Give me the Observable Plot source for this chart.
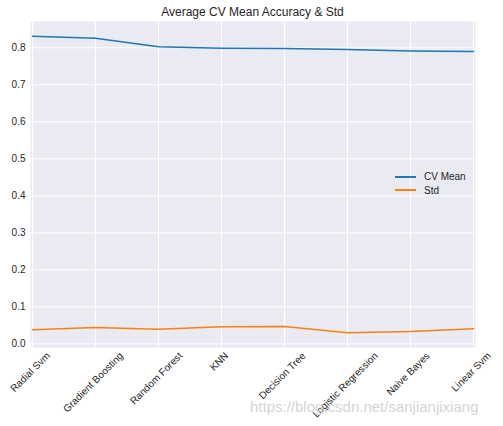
<!DOCTYPE html>
<html>
<head>
<meta charset="utf-8">
<script src="https://cdn.jsdelivr.net/npm/d3@7"></script>
<script src="https://cdn.jsdelivr.net/npm/@observablehq/plot@0.6"></script>
<style>
  body { margin: 0; background: #fff; font-family: "Liberation Sans", Arial, sans-serif; }
  #wrap { position: relative; width: 503px; height: 426px; }
  #title { position: absolute; left: 30px; width: 445px; top: 5px; text-align: center; font-size: 12px; color: #262626; }
  #chart { position: absolute; left: 0; top: 21px; }
  #legend { position: absolute; left: 395px; top: 170px; font-size: 10px; color: #262626; }
  #legend div { display: flex; align-items: center; height: 13.5px; }
  #legend span.sw { display: inline-block; width: 21px; height: 2px; margin-right: 8px; }
  #wm { position: absolute; left: 250px; top: 398px; font-size: 15px; color: #d4d4d4; white-space: nowrap; }
</style>
</head>
<body>
<div id="wrap">
  <div id="title">Average CV Mean Accuracy &amp; Std</div>
  <div id="chart"></div>
  <div id="legend"></div>
  <div id="wm">https://blog.csdn.net/sanjianjixiang</div>
</div>
<script>
const categories = ["Radial Svm", "Gradient Boosting", "Random Forest", "KNN", "Decision Tree", "Logistic Regression", "Naive Bayes", "Linear Svm"];
const cvMean = [0.831, 0.826, 0.803, 0.799, 0.798, 0.795, 0.791, 0.790];
const cvStd = [0.038, 0.044, 0.039, 0.046, 0.047, 0.030, 0.033, 0.041];
const yTicks = [0.0, 0.1, 0.2, 0.3, 0.4, 0.5, 0.6, 0.7, 0.8];
const seriesNames = ["CV Mean", "Std"];
const colors = ["#1f77b4", "#ff7f0e"];

const rows = [];
categories.forEach((c, i) => {
  rows.push({model: c, series: seriesNames[0], value: cvMean[i]});
  rows.push({model: c, series: seriesNames[1], value: cvStd[i]});
});

const ctx = document.createElement("canvas").getContext("2d");
ctx.font = "10px 'Liberation Sans', Arial, sans-serif";
const fontH = 11;

const labelMarks = categories.map(c => {
  const L = ctx.measureText(c).width;
  return Plot.text([c], {
    x: d => d, frameAnchor: "bottom", rotate: -45, textAnchor: "middle",
    dy: 5 + (L + fontH) * 0.3536, fontSize: 10, fill: "#262626"
  });
});

const chart = Plot.plot({
  width: 503,
  height: 405,
  marginTop: 0,
  marginLeft: 30,
  marginRight: 28,
  marginBottom: 79,
  style: {fontFamily: "'Liberation Sans', Arial, sans-serif", fontSize: "10px", color: "#262626", background: "transparent"},
  x: {type: "point", domain: categories, padding: 0, axis: null},
  y: {domain: [-0.010, 0.871], ticks: yTicks, axis: null},
  color: {domain: seriesNames, range: colors},
  marks: [
    Plot.frame({fill: "#eaeaf2", stroke: null}),
    Plot.gridX(categories, {stroke: "#fff", strokeOpacity: 1, strokeWidth: 1}),
    Plot.gridY(yTicks, {stroke: "#fff", strokeOpacity: 1, strokeWidth: 1}),
    Plot.axisY(yTicks, {tickSize: 0, tickPadding: 5, tickFormat: d3.format(".1f"), fontSize: 10, label: null}),
    ...labelMarks,
    Plot.line(rows, {x: "model", y: "value", z: "series", stroke: "series", strokeWidth: 1.5})
  ]
});
document.getElementById("chart").appendChild(chart);

const legend = document.getElementById("legend");
seriesNames.forEach((s, i) => {
  const row = document.createElement("div");
  row.innerHTML = `<span class="sw" style="background:${colors[i]}"></span>${s}`;
  legend.appendChild(row);
});
</script>
</body>
</html>
